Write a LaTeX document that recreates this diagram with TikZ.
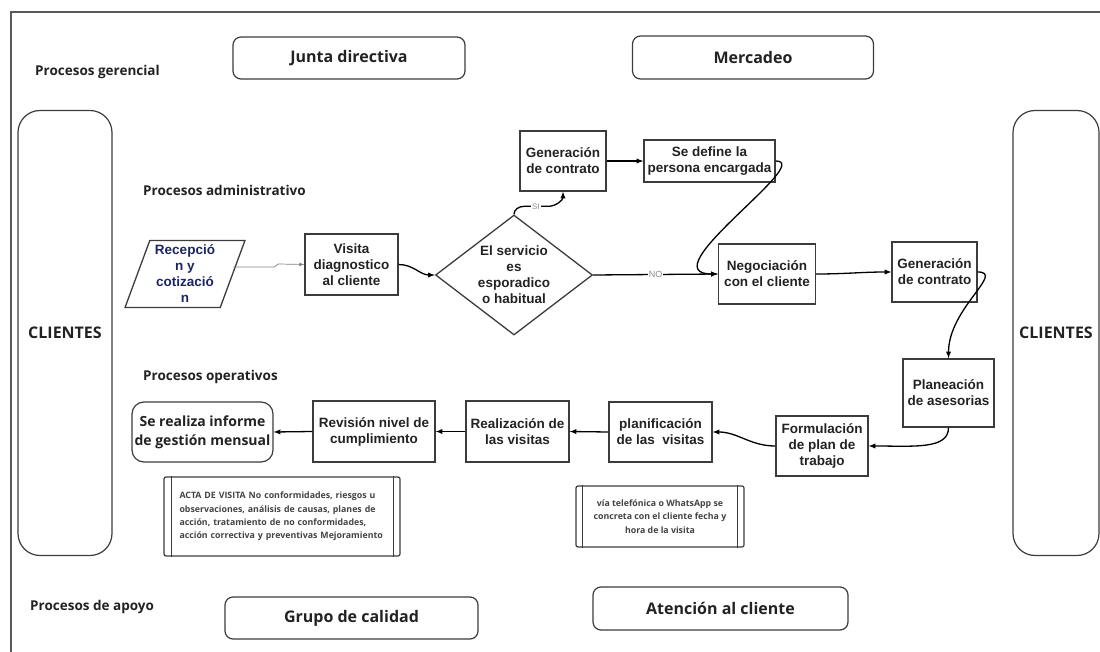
\documentclass[tikz,border=0pt]{standalone}
\usepackage{fontspec}
\setmainfont{Liberation Sans}
\newfontfamily\opensans{Open Sans}
\usetikzlibrary{shapes}
\usetikzlibrary{shapes.geometric}
\usetikzlibrary{arrows}
\usetikzlibrary{positioning}
\usetikzlibrary{calc}

\definecolor{borde}{HTML}{3C3C3C}
\definecolor{texto}{HTML}{222222}
\definecolor{azulrec}{HTML}{1C2560}
\definecolor{grisno}{HTML}{8C8C8C}

\tikzset{
  caja/.style={draw=borde, line width=1.3pt, align=center, inner sep=0pt, text=texto,
    font=\fontsize{13.5}{16}\selectfont\bfseries},
  redonda/.style={draw=borde, line width=1.2pt, rounded corners=8pt, align=center, inner sep=0pt, text=texto,
    font=\opensans\fontsize{16}{20}\selectfont\bfseries},
  titulo/.style={anchor=west, inner sep=0pt, text=texto,
    font=\opensans\fontsize{13.5}{16}\selectfont\bfseries},
  nota/.style={draw=borde, line width=1.2pt, rounded corners=2pt, inner sep=0pt, text=texto!85,
    font=\opensans\fontsize{8.8}{13.3}\selectfont\bfseries},
  flecha/.style={-latex, line width=1.3pt, black},
  etiqueta/.style={fill=white, inner sep=1pt, text=grisno, font=\fontsize{8}{9}\selectfont}
}

\begin{document}
\begin{tikzpicture}[x=1pt, y=-1pt]
\useasboundingbox (0,0) rectangle (1100,652);

%marco
\draw[line width=1.5pt, borde!85] (10,12) -- (1100,12);
\draw[line width=1.5pt, borde!85] (11,12) -- (11,652);

%procesos gerencial
\node[titulo] (gerencial) at (35,72) {Procesos gerencial};
\node[redonda, minimum width=232, minimum height=42] (junta) at (349,58) {Junta directiva};
\node[redonda, minimum width=241, minimum height=43] (mercadeo) at (753,57.5) {Mercadeo};

%clientes
\node[redonda, rounded corners=22pt, minimum width=94, minimum height=445] (clientesizq) at (65,333) {CLIENTES};
\node[redonda, rounded corners=22pt, minimum width=86, minimum height=445] (clientesder) at (1056,333) {CLIENTES};

%procesos administrativo
\node[titulo] (administrativo) at (143,190) {Procesos administrativo};

\node[caja, trapezium, trapezium left angle=70, trapezium right angle=110, trapezium stretches=true,
  minimum width=120, minimum height=67, text=azulrec] (recepcion) at (185,274) {Recepció\\n y\\cotizació\\n};
\node[caja, minimum width=93, minimum height=61] (visita) at (351.5,264.5) {Visita\\diagnostico\\al cliente};
\node[caja, diamond, aspect=1.31, minimum width=157, minimum height=120] (servicio) at (514,275)
  {El servicio\\es\\esporadico\\o habitual};
\node[caja, minimum width=86, minimum height=60] (gencontrato) at (563,161) {Generación\\de contrato};
\node[caja, minimum width=131, minimum height=42] (sedefine) at (709.5,161) {Se define la\\persona encargada};
\node[caja, minimum width=97, minimum height=60] (negociacion) at (767,274) {Negociación\\con el cliente};
\node[caja, minimum width=85, minimum height=60] (gencontratodos) at (934.5,272) {Generación\\de contrato};
\node[caja, minimum width=91, minimum height=68] (planeacion) at (948.5,393) {Planeación\\de asesorias};

%procesos operativos
\node[titulo] (operativos) at (143,377) {Procesos operativos};

\node[caja, minimum width=92, minimum height=60] (formulacion) at (822,446) {Formulación\\de plan de\\trabajo};
\node[caja, minimum width=103, minimum height=60] (planificacion) at (660.5,432) {planificación\\de las\ \ visitas};
\node[caja, minimum width=103, minimum height=61] (realizacion) at (517.5,431.5) {Realización de\\las visitas};
\node[caja, minimum width=122, minimum height=61] (revision) at (374,431.5) {Revisión nivel de\\cumplimiento};
\node[redonda, rounded corners=12pt, minimum width=141, minimum height=60,
  font=\opensans\fontsize{14}{19}\selectfont\bfseries] (informe) at (202.5,432) {Se realiza informe\\de gestión mensual};

%notas
\node[nota, minimum width=236, minimum height=79, text width=205, align=left] (acta) at (282,516.5)
  {ACTA DE VISITA No conformidades, riesgos u\\observaciones, análisis de causas, planes de\\acción, tratamiento de no conformidades,\\acción correctiva y preventivas Mejoramiento};
\draw[borde, line width=1.2pt] ([xshift=8pt]acta.north west) -- ([xshift=8pt]acta.south west);
\draw[borde, line width=1.2pt] ([xshift=-7pt]acta.north east) -- ([xshift=-7pt]acta.south east);

\node[nota, minimum width=168, minimum height=61, align=center] (telefono) at (660,516.5)
  {vía telefónica o WhatsApp se\\concreta con el cliente fecha y\\hora de la visita};
\draw[borde, line width=1.2pt] ([xshift=7pt]telefono.north west) -- ([xshift=7pt]telefono.south west);
\draw[borde, line width=1.2pt] ([xshift=-7pt]telefono.north east) -- ([xshift=-7pt]telefono.south east);

%procesos de apoyo
\node[titulo] (apoyo) at (30,607) {Procesos de apoyo};
\node[redonda, minimum width=253, minimum height=42] (calidad) at (351.5,618) {Grupo de calidad};
\node[redonda, minimum width=255, minimum height=43] (atencion) at (720.5,608.5) {Atención al cliente};

%flechas
\draw[-latex, line width=0.7pt, gray] ([yshift=7pt]recepcion.east) -- ++(41,0) -- ++(4,-3) -- (visita.west);
\draw[flecha] (visita.east) to[out=0, in=180] (servicio.west);
\draw[flecha] (servicio.north) to[out=90, in=180] ++(10,-8) -- node[etiqueta]{SI} ++(24,0) to[out=0, in=-90] (gencontrato.south);
\draw[flecha] (gencontrato.east) -- (sedefine.west);
\draw[flecha] (servicio.east) -- node[etiqueta, font=\fontsize{9}{10}\selectfont]{NO} (negociacion.west);
\draw[flecha] (sedefine.east) .. controls +(40,0) and +(-70,0) .. (negociacion.west);
\draw[flecha] (negociacion.east) to[out=0, in=180] (gencontratodos.west);
\draw[flecha] (gencontratodos.east) .. controls +(28,0) and +(0,-50) .. (planeacion.north);
\draw[flecha] (planeacion.south) .. controls +(0,22) and +(45,0) .. (formulacion.east);
\draw[flecha] (formulacion.west) to[out=180, in=0] (planificacion.east);
\draw[flecha] (planificacion.west) -- (realizacion.east);
\draw[flecha] (realizacion.west) -- (revision.east);
\draw[flecha] (revision.west) -- (informe.east);

\end{tikzpicture}
\end{document}
